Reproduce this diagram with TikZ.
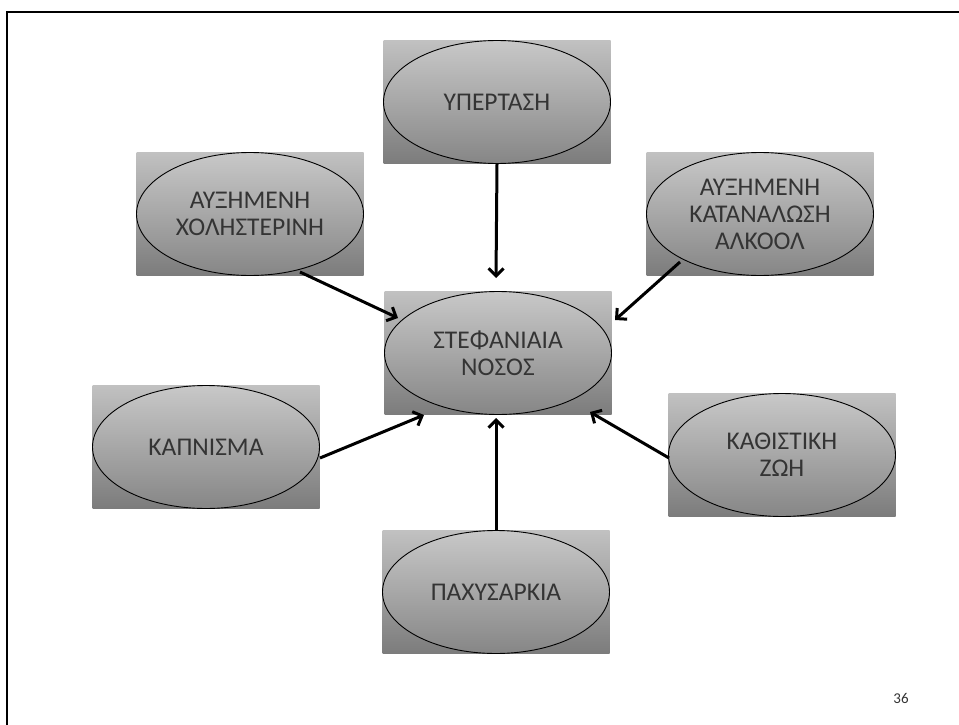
\documentclass[tikz,border=0pt]{standalone}
\usepackage{fontspec}
\setmainfont{Carlito}
\usetikzlibrary{shapes.geometric,arrows.meta,calc}

\definecolor{boxtop}{RGB}{193,193,193}
\definecolor{boxbot}{RGB}{124,124,124}
\definecolor{elltop}{RGB}{200,200,200}
\definecolor{ellbot}{RGB}{134,134,134}
\definecolor{labgray}{RGB}{52,52,52}

\tikzset{
  riskbox/.style={rectangle, inner sep=0pt, minimum width=227pt, minimum height=123pt,
    top color=boxtop, bottom color=boxbot},
  riskell/.style={ellipse, draw=black, line width=0.9pt, inner sep=0pt,
    minimum width=227pt, minimum height=123pt, top color=elltop, bottom color=ellbot,
    align=center, text=labgray, font=\fontsize{25.5}{27}\selectfont},
  riskarrow/.style={line width=3pt, -{Straight Barb[length=7.5pt,width=15pt]}}
}

\begin{document}
\begin{tikzpicture}[x=1pt,y=-1pt]
            \useasboundingbox (0,0) rectangle (959,725);
            \draw[line width=2.5pt] (7,725) -- (7,12) -- (959,12);

            % boxes and ellipses
            \node[riskbox] (hyperbox) at (497,102) {};
            \node[riskell] (hyper) at (hyperbox) {ΥΠΕΡΤΑΣΗ};
            \node[riskbox] (cholbox) at (250,214) {};
            \node[riskell] (chol) at (cholbox) {ΑΥΞΗΜΕΝΗ\\ΧΟΛΗΣΤΕΡΙΝΗ};
            \node[riskbox] (alcbox) at (760,214) {};
            \node[riskell] (alc) at (alcbox) {ΑΥΞΗΜΕΝΗ\\ΚΑΤΑΝΑΛΩΣΗ\\ΑΛΚΟΟΛ};
            \node[riskbox] (stefbox) at (498,353) {};
            \node[riskell] (stef) at (stefbox) {ΣΤΕΦΑΝΙΑΙΑ\\ΝΟΣΟΣ};
            \node[riskbox] (smokbox) at (206,447) {};
            \node[riskell] (smok) at (smokbox) {ΚΑΠΝΙΣΜΑ};
            \node[riskbox] (sedbox) at (782,455) {};
            \node[riskell] (sed) at (sedbox) {ΚΑΘΙΣΤΙΚΗ\\ΖΩΗ};
            \node[riskbox] (obesbox) at (496,592) {};
            \node[riskell] (obes) at (obesbox) {ΠΑΧΥΣΑΡΚΙΑ};

            % arrows into the centre
            \draw[riskarrow] (hyper.south) -- ($(stef)+(-2,-75)$);
            \draw[riskarrow] ($(chol)+(50,58)$) -- ($(stef)+(-100,-35)$);
            \draw[riskarrow] ($(alc)+(-80,48)$) -- ($(stef)+(117,-33)$);
            \draw[riskarrow] ($(smok)+(114,11)$) -- ($(stef)+(-74,62)$);
            \draw[riskarrow] ($(sed)+(-113,3)$) -- ($(stef)+(92,59)$);
            \draw[riskarrow] (obes.north) -- ($(stef)+(-2,65)$);

            \node[font=\fontsize{15}{18}\selectfont, text=labgray] (pagenum) at (901,698) {36};
\end{tikzpicture}
\end{document}
